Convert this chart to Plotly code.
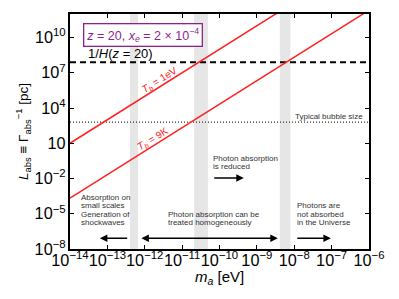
import plotly.graph_objects as go

# ---- data ----
ma_range = [1e-14, 1e-6]
L_1eV = [1.0e1, 1.0e17]
L_9K = [2.1e-4, 2.1e12]
L_hubble = 8.0e7
L_bubble = 6.3e2
bands = [(4.0e-13, 6.6e-13), (2.1e-11, 4.9e-11), (4.1e-9, 7.9e-9)]

FONT = "Liberation Sans, Arial, sans-serif"
RED = "#ff2020"
PURPLE = "#8e1f91"
GREY_TXT = "#333333"

fig = go.Figure()

# grey bands
for x0, x1 in bands:
    fig.add_trace(go.Scatter(x=[x0, x1, x1, x0, x0], y=[1e-8, 1e-8, 1e12, 1e12, 1e-8],
                             mode="lines", fill="toself", fillcolor="#e6e6e6",
                             line=dict(width=0), hoverinfo="skip", showlegend=False))

fig.add_trace(go.Scatter(x=ma_range, y=[L_hubble, L_hubble], mode="lines",
                         line=dict(color="black", width=2, dash="6px,4px"), showlegend=False))
fig.add_trace(go.Scatter(x=ma_range, y=[L_bubble, L_bubble], mode="lines",
                         line=dict(color="black", width=1, dash="1px,2px"), showlegend=False))
fig.add_trace(go.Scatter(x=ma_range, y=L_1eV, mode="lines",
                         line=dict(color=RED, width=1.5), showlegend=False))
fig.add_trace(go.Scatter(x=ma_range, y=L_9K, mode="lines",
                         line=dict(color=RED, width=1.5), showlegend=False))

axis_common = dict(type="log", showline=True, linecolor="black", linewidth=1.5,
                   mirror="ticks", ticks="inside", ticklen=4, tickwidth=1.2,
                   tickcolor="black", showgrid=False, zeroline=False, automargin=False,
                   exponentformat="power", tickfont=dict(size=13, color="black", family=FONT))

fig.update_xaxes(range=[-14, -6], dtick=1, tickangle=0, ticklabelstandoff=-4, **axis_common)
fig.update_yaxes(range=[-8, 12], tick0=-8, dtick=3, **axis_common,
                 title=dict(text="<i>L</i><sub>abs</sub> ≡ Γ<sub>abs</sub><sup>−1</sup> [pc]",
                            font=dict(size=13.5, family=FONT, color="black"), standoff=3))

ann = []

def px2logL(ypx):
    return -8 + (249 - ypx) / 11.77

def px2logm(xpx):
    return -14 + (xpx - 70) / 37.4

def text_block(lines, xpx, ypx_first, spacing=8.5, size=8):
    for i, t in enumerate(lines):
        ann.append(dict(x=px2logm(xpx), y=px2logL(ypx_first + i * spacing), text=t,
                        xanchor="left", yanchor="middle", showarrow=False,
                        font=dict(size=size, family=FONT, color=GREY_TXT)))

text_block(["Absorption on", "small scales", "Generation of", "shockwaves"], 79, 197)
text_block(["Photon absorption can be", "treated homogeneously"], 166.5, 214)
text_block(["Photon absorption", "is reduced"], 211, 158.3)
text_block(["Photons are", "not absorbed", "in the Universe"], 295, 205.7)

ann.append(dict(xref="paper", x=0.988, y=px2logL(116.5), text="Typical bubble size",
                xanchor="right", yanchor="middle", showarrow=False,
                font=dict(size=8, family=FONT, color=GREY_TXT)))

# x-axis title
ann.append(dict(xref="paper", yref="paper", x=0.5, y=(249 - 277) / 235.0,
                text="<i>m<sub>a</sub></i> [eV]", xanchor="center", yanchor="middle",
                showarrow=False, font=dict(size=15, family=FONT, color="black")))

# arrows
arrow_y = px2logL(238.3)
for head, tail, side, yy in [(-13.2, -12.43, "end", arrow_y),
                             (-8.44, -12.13, "end+start", arrow_y),
                             (-7.02, -7.96, "end", arrow_y),
                             (-9.35, -10.18, "end", px2logL(178))]:
    ann.append(dict(x=head, y=yy, ax=tail, ay=yy, axref="x", ayref="y", text="",
                    showarrow=True, arrowhead=2, arrowsize=1, arrowwidth=1.5,
                    arrowcolor="black", arrowside=side))

# line labels
ann.append(dict(x=px2logm(160), y=px2logL(80), text="<i>T<sub>b</sub></i> = 1eV", textangle=-32,
                showarrow=False, font=dict(size=10, family=FONT, color=RED)))
ann.append(dict(x=px2logm(153), y=px2logL(139), text="<i>T<sub>b</sub></i> = 9K", textangle=-32,
                showarrow=False, font=dict(size=10, family=FONT, color=RED)))

ann.append(dict(x=px2logm(86), y=px2logL(53), text="1/<i>H</i>(<i>z</i> = 20)",
                xanchor="left", yanchor="middle", showarrow=False,
                font=dict(size=13, family=FONT, color="black")))
ann.append(dict(x=px2logm(143), y=px2logL(34.3),
                text="<i>z</i> = 20, <i>x<sub>e</sub></i> = 2 × 10<sup>−4</sup>",
                xanchor="center", yanchor="middle", showarrow=False,
                bordercolor=PURPLE, borderwidth=1.3, borderpad=2, bgcolor="white",
                font=dict(size=12.5, family=FONT, color=PURPLE)))

fig.update_layout(width=399, height=299, margin=dict(l=70, r=30, t=14, b=50),
                  plot_bgcolor="white", paper_bgcolor="white",
                  font=dict(family=FONT), annotations=ann)

fig.write_html("out.html", config={"displayModeBar": False},
               post_script="document.body.style.margin='0px';")
